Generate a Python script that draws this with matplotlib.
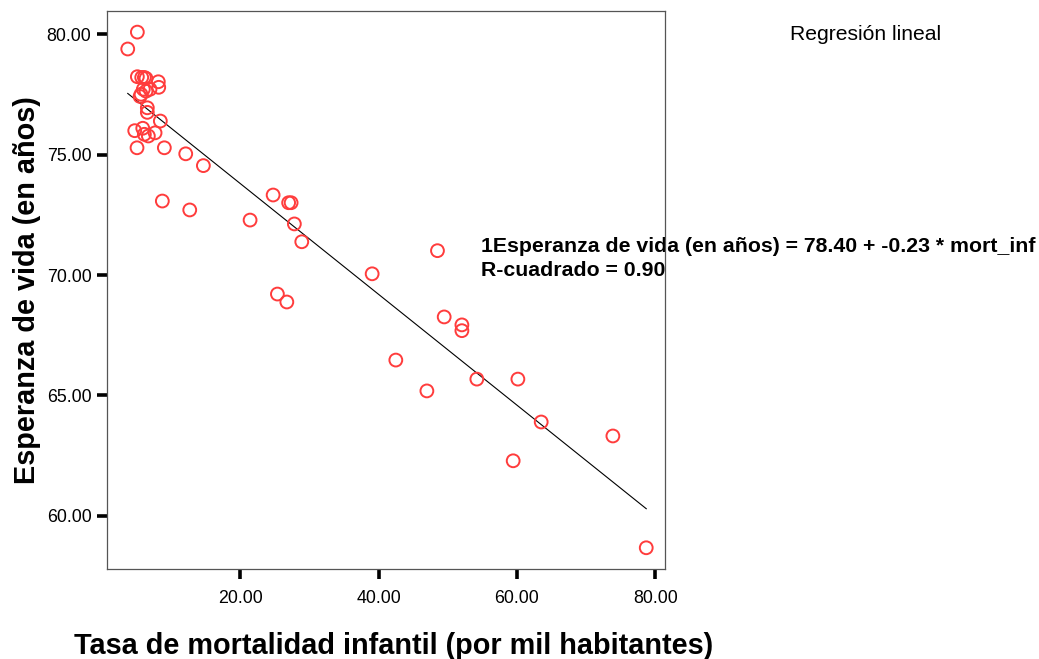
import numpy as np
import matplotlib
matplotlib.use('Agg')
import matplotlib.pyplot as plt
from matplotlib.ticker import FormatStrFormatter

plt.rcParams['font.family'] = ['Liberation Sans', 'DejaVu Sans']

# Tasa de mortalidad infantil vs. esperanza de vida
mort_inf = [5.15, 3.76, 5.15, 5.78, 6.16, 6.40, 8.18, 8.24, 6.98, 6.01,
            6.40, 5.68, 5.54, 6.59, 6.59, 8.47, 4.77, 5.93, 7.71, 6.74,
            6.16, 5.10, 9.05, 12.14, 14.69, 8.76, 12.72, 21.44, 24.77, 27.01,
            27.37, 27.84, 28.91, 25.39, 26.75, 39.08, 48.52, 49.49, 52.05, 52.05,
            42.50, 46.99, 54.21, 60.14, 63.51, 73.87, 59.46, 78.69]
esp_vida = [80.08, 79.38, 78.23, 78.20, 78.20, 78.16, 78.02, 77.79, 77.71, 77.71,
            77.63, 77.50, 77.41, 76.94, 76.75, 76.39, 75.99, 76.09, 75.90, 75.77,
            75.84, 75.28, 75.28, 75.03, 74.54, 73.07, 72.70, 72.28, 73.32, 73.00,
            73.00, 72.12, 71.38, 69.21, 68.88, 70.05, 71.01, 68.26, 67.93, 67.69,
            66.47, 65.19, 65.68, 65.68, 63.90, 63.32, 62.29, 58.68]

intercept = 78.40
slope = -0.23
r2 = 0.90

x_ticks = [20, 40, 60, 80]
y_ticks = [60, 65, 70, 75, 80]

fig = plt.figure(figsize=(10.39, 6.59), dpi=100)
ax = fig.add_axes([0.1027, 0.1366, 0.5376, 0.8472])

ax.scatter(mort_inf, esp_vida, s=85, facecolors='none', edgecolors='#ff3c3c',
           linewidths=1.4, zorder=3)

xl = np.array([min(mort_inf), max(mort_inf)])
ax.plot(xl, intercept + slope * xl, color='black', lw=0.8, zorder=2)

ax.set_xlim(0.72, 81.44)
ax.set_ylim(57.80, 80.97)
ax.set_xticks(x_ticks)
ax.set_yticks(y_ticks)
ax.xaxis.set_major_formatter(FormatStrFormatter('%.2f'))
ax.yaxis.set_major_formatter(FormatStrFormatter('%.2f'))
ax.tick_params(axis='both', direction='out', length=7, width=2.6, color='black',
               labelsize=12.8)
ax.tick_params(axis='x', pad=8)
ax.tick_params(axis='y', pad=4)
ax.tick_params(top=False, right=False)

for sp in ax.spines.values():
    sp.set_color('#555555')
    sp.set_linewidth(0.9)
    sp.set_zorder(5)

ax.set_xlabel('Tasa de mortalidad infantil (por mil habitantes)', fontsize=20.8,
              fontweight='bold')
ax.xaxis.set_label_coords(0.514, -0.112)
ax.set_ylabel('Esperanza de vida (en años)', fontsize=20.8, fontweight='bold',
              labelpad=4)

# ecuación de ajuste, parte queda bajo el marco del eje
ax.text(0.4625, 0.6077,
        '1Esperanza de vida (en años) = %.2f + %.2f * mort_inf\nR-cuadrado = %.2f'
        % (intercept, slope, r2),
        transform=fig.transFigure, fontsize=15.3, fontweight='bold',
        linespacing=1.32, va='center', ha='left', clip_on=False, zorder=1)

fig.text(0.8335, 0.947, 'Regresión lineal', fontsize=15.2, ha='center', va='center')

fig.savefig('out.png', dpi=100)
